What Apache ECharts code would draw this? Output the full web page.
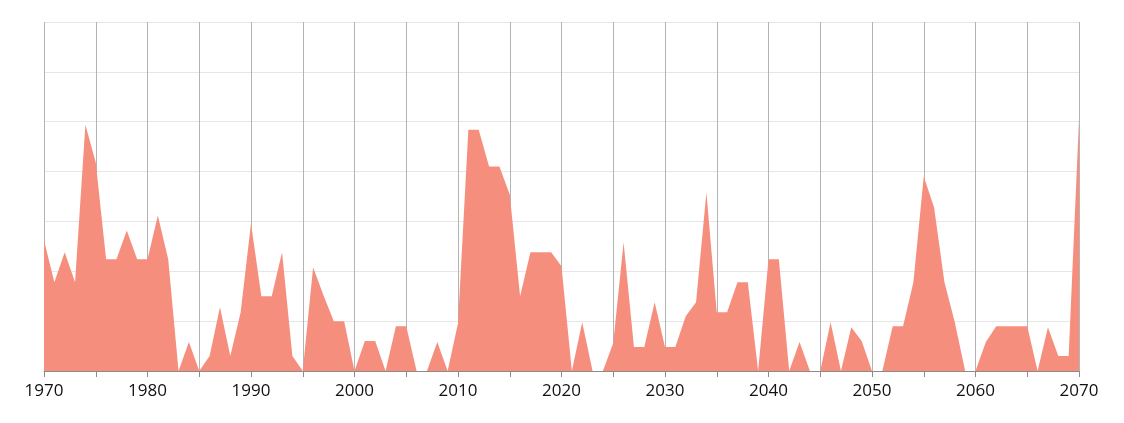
<!DOCTYPE html>
<html>
<head>
<meta charset="utf-8">
<script src="https://cdn.jsdelivr.net/npm/echarts@6/dist/echarts.min.js"></script>
<style>
html,body{margin:0;padding:0;background:#fff;}
#chart{width:1124px;height:423px;}
</style>
</head>
<body>
<div id="chart"></div>
<script>
const startYear = 1970;
const endYear = 2070;
const values = [
  13.1, 8.9, 11.9, 8.9, 24.7, 20.9, 11.2, 11.2, 14.1, 11.2,
  11.2, 15.6, 11.2, 0, 2.9, 0, 1.5, 6.4, 1.5, 5.9,
  14.8, 7.5, 7.5, 11.9, 1.5, 0, 10.4, 7.6, 5.0, 5.0,
  0, 3.0, 3.0, 0, 4.5, 4.5, 0, 0, 2.9, 0,
  4.8, 24.2, 24.2, 20.5, 20.5, 17.7, 7.5, 11.9, 11.9, 11.9,
  10.5, 0, 4.9, 0, 0, 2.8, 12.9, 2.4, 2.4, 6.9,
  2.4, 2.4, 5.5, 6.9, 17.9, 5.9, 5.9, 8.9, 8.9, 0,
  11.2, 11.2, 0, 2.9, 0, 0, 4.9, 0, 4.4, 3.0,
  0, 0, 4.5, 4.5, 8.9, 19.5, 16.4, 8.9, 4.9, 0,
  0, 2.9, 4.5, 4.5, 4.5, 4.5, 0, 4.4, 1.5, 1.5,
  25.2
];
const years = values.map((v, i) => startYear + i);
const xTickStep = 5;
const xLabelStep = 10;
const yMax = 35;
const yStep = 5;

const chart = echarts.init(document.getElementById('chart'), null, {renderer: 'canvas'});
chart.setOption({
  animation: false,
  backgroundColor: '#ffffff',
  grid: {left: 44, right: 45, top: 22, bottom: 52, containLabel: false},
  xAxis: {
    type: 'value',
    min: startYear,
    max: endYear,
    interval: xTickStep,
    axisLine: {show: true, lineStyle: {color: '#8c8c8c', width: 1}},
    axisTick: {show: true, length: 6, lineStyle: {color: '#8c8c8c'}},
    axisLabel: {
      show: true,
      color: '#111111',
      fontFamily: 'Open Sans',
      fontSize: 17,
      margin: 12,
      formatter: v => (v % xLabelStep === 0 ? String(v) : '')
    },
    splitLine: {show: true, lineStyle: {color: '#b4b4b4', width: 1}}
  },
  yAxis: {
    type: 'value',
    min: 0,
    max: yMax,
    interval: yStep,
    axisLine: {show: false},
    axisTick: {show: false},
    axisLabel: {show: false},
    splitLine: {show: true, lineStyle: {color: '#e6e6e6', width: 1}}
  },
  series: [{
    type: 'line',
    data: years.map((y, i) => [y, values[i]]),
    symbol: 'none',
    lineStyle: {width: 0, color: '#f68e7e'},
    areaStyle: {color: '#f68e7e', opacity: 1},
    itemStyle: {color: '#f68e7e'}
  }]
});
</script>
</body>
</html>
